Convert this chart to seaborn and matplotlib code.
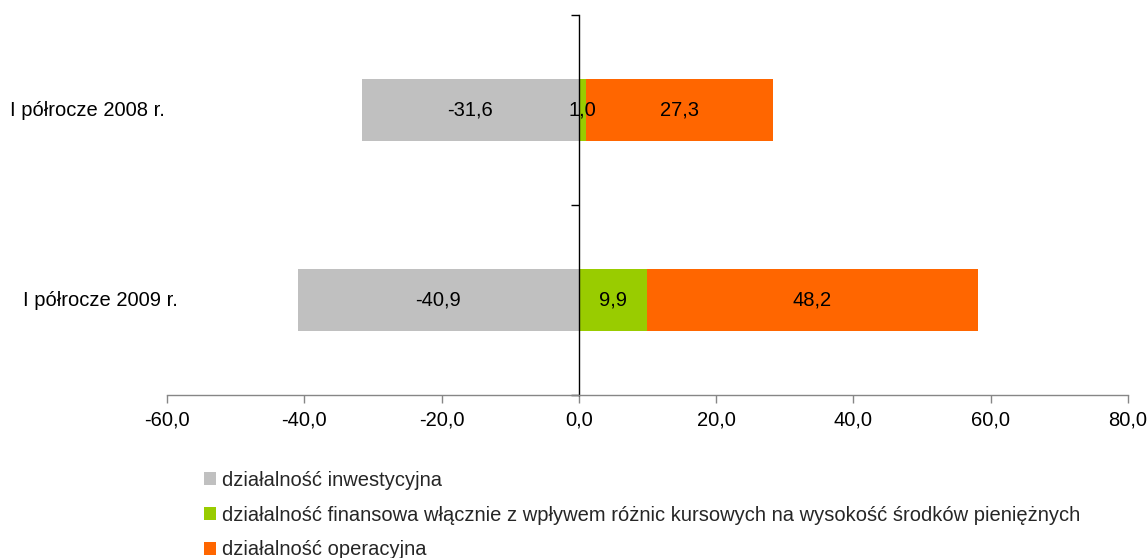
import matplotlib
matplotlib.use('Agg')
import matplotlib.pyplot as plt
import matplotlib.transforms as mtransforms
from matplotlib.patches import Patch
import pandas as pd
import seaborn as sns

# data
periods = ['I półrocze 2008 r.', 'I półrocze 2009 r.']
inwestycyjna = [-31.6, -40.9]
finansowa = [1.0, 9.9]
operacyjna = [27.3, 48.2]
series_names = ['działalność inwestycyjna',
                'działalność finansowa włącznie z wpływem różnic kursowych na wysokość środków pieniężnych',
                'działalność operacyjna']
colors = ['#C0C0C0', '#99CC00', '#FF6600']
x_ticks = [-60, -40, -20, 0, 20, 40, 60, 80]

sns.set_theme(style='white')
plt.rcParams['font.family'] = ['Liberation Sans', 'DejaVu Sans']
FS = 14.5

df = pd.DataFrame({'period': periods, 'inw': inwestycyjna,
                   'fin': finansowa, 'op': operacyjna})
df['fin_op'] = df['fin'] + df['op']

fig = plt.figure(figsize=(11.47, 5.58), dpi=100)
ax = fig.add_axes([167 / 1147, 1 - 395 / 558, 961 / 1147, 380 / 558])

bw = 0.33
# stacked look: draw the cumulative positive bar first, then the green over it
sns.barplot(data=df, y='period', x='fin_op', color=colors[2], orient='h',
            width=bw, saturation=1, ax=ax)
sns.barplot(data=df, y='period', x='fin', color=colors[1], orient='h',
            width=bw, saturation=1, ax=ax)
sns.barplot(data=df, y='period', x='inw', color=colors[0], orient='h',
            width=bw, saturation=1, ax=ax)
for p in ax.patches:
    p.set_edgecolor('none')

fmt = lambda v: f'{v:.1f}'.replace('.', ',')

# data labels centred in each segment
for i in range(len(periods)):
    ax.text(inwestycyjna[i] / 2, i, fmt(inwestycyjna[i]), ha='center', va='center', fontsize=FS, color='black')
    ax.text(finansowa[i] / 2, i, fmt(finansowa[i]), ha='center', va='center', fontsize=FS, color='black')
    ax.text(finansowa[i] + operacyjna[i] / 2, i, fmt(operacyjna[i]), ha='center', va='center', fontsize=FS, color='black')

ax.set_xlim(-60, 80)
ax.set_ylim(1.5, -0.5)
ax.set_xticks(x_ticks)
ax.set_xticklabels([fmt(t) for t in x_ticks], fontsize=FS, color='black')
ax.set_xlabel('')
ax.set_ylabel('')

# category axis sits at x = 0, tick marks between categories
ax.spines['left'].set_position(('data', 0))
ax.spines['left'].set_color('black')
ax.spines['left'].set_linewidth(1.0)
ax.spines['right'].set_visible(False)
ax.spines['top'].set_visible(False)
ax.spines['bottom'].set_color('#868686')
ax.spines['bottom'].set_linewidth(1.0)
ax.set_yticks([-0.5, 0.5, 1.5])
ax.set_yticklabels([])
ax.tick_params(axis='y', direction='out', length=6, width=1, color='black', left=True)
ax.tick_params(axis='x', direction='out', length=6, width=1, color='#868686', bottom=True, pad=5)

# category labels on the far left
trans = mtransforms.blended_transform_factory(ax.transAxes, ax.transData)
label_x = [-0.0827, -0.0697]
for i, name in enumerate(periods):
    ax.text(label_x[i], i, name, transform=trans, ha='center', va='center', fontsize=FS, color='black')

handles = [Patch(facecolor=c, edgecolor='none') for c in colors]
fig.legend(handles, series_names, loc='upper left',
           bbox_to_anchor=(204 / 1147, 1 - 471 / 558), frameon=False,
           fontsize=FS, handlelength=0.62, handleheight=0.62,
           handletextpad=0.25, labelspacing=0.78, borderpad=0, borderaxespad=0)

fig.savefig('out.png', dpi=100)
